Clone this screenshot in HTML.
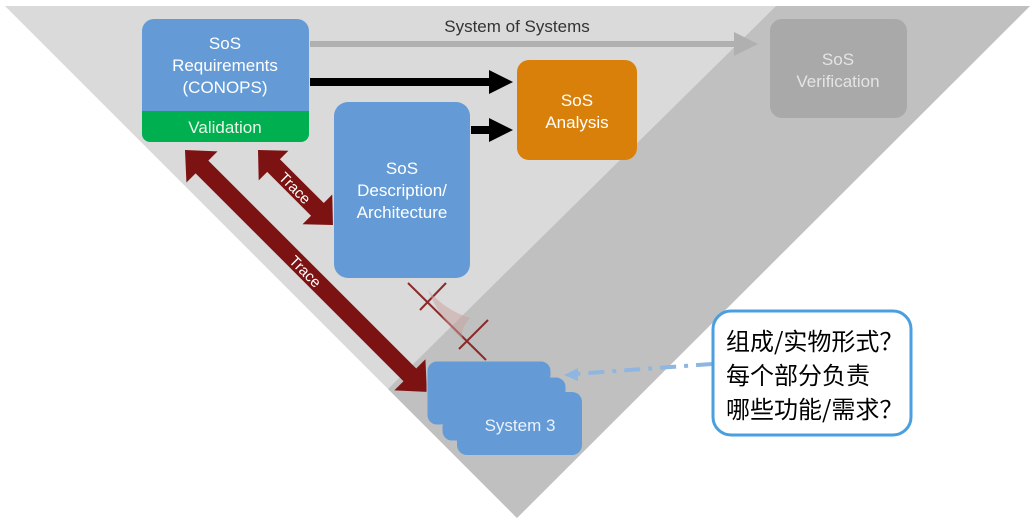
<!DOCTYPE html>
<html><head><meta charset="utf-8"><style>
html,body{margin:0;padding:0;background:#fff;width:1035px;height:525px;overflow:hidden}
svg{display:block}
text{font-family:"Liberation Sans",sans-serif}
</style></head><body>
<svg width="1035" height="525" viewBox="0 0 1035 525" xmlns="http://www.w3.org/2000/svg">
<defs>
<marker id="ag" markerWidth="4" markerHeight="4" refX="3" refY="2" orient="auto" markerUnits="strokeWidth"><path d="M0,0 L4,2 L0,4 z" fill="#b0b0b0"/></marker>
<marker id="ab" markerWidth="3" markerHeight="3" refX="2" refY="1.5" orient="auto" markerUnits="strokeWidth"><path d="M0,0 L3,1.5 L0,3 z" fill="#000"/></marker>
</defs>
<polygon points="5,6 1030,6 517,518" fill="#dadada"/>
<polygon points="776,6 1030,6 517,518 388,389" fill="#c0c0c0"/>
<text x="517" y="32" font-size="17" fill="#333" text-anchor="middle">System of Systems</text>
<line x1="310" y1="44" x2="752" y2="44" stroke="#b0b0b0" stroke-width="6" marker-end="url(#ag)"/>
<line x1="310" y1="82" x2="505" y2="82" stroke="#000" stroke-width="8" marker-end="url(#ab)"/>
<line x1="471" y1="130" x2="505" y2="130" stroke="#000" stroke-width="8" marker-end="url(#ab)"/>
<rect x="142" y="19" width="167" height="123" rx="12" fill="#649bd6"/>
<path d="M142,111 H309 V134 a8,8 0 0 1 -8,8 H150 a8,8 0 0 1 -8,-8 z" fill="#00b050"/>
<g font-size="17" fill="#fff" text-anchor="middle">
<text x="225" y="49">SoS</text>
<text x="225" y="71">Requirements</text>
<text x="225" y="93">(CONOPS)</text>
<text x="225" y="133" fill="#e8f5e8">Validation</text>
</g>
<rect x="334" y="102" width="136" height="176" rx="14" fill="#649bd6"/>
<g font-size="17" fill="#fff" text-anchor="middle">
<text x="402" y="174">SoS</text>
<text x="402" y="196">Description/</text>
<text x="402" y="218">Architecture</text>
</g>
<rect x="517" y="60" width="120" height="100" rx="12" fill="#d9800a"/>
<text x="577" y="106" font-size="17" fill="#fff" text-anchor="middle">SoS</text>
<text x="577" y="128" font-size="17" fill="#fff" text-anchor="middle">Analysis</text>
<rect x="770" y="19" width="137" height="99" rx="12" fill="#a9a9a9"/>
<text x="838" y="65" font-size="17" fill="#e4e4e4" text-anchor="middle">SoS</text>
<text x="838" y="87" font-size="17" fill="#e4e4e4" text-anchor="middle">Verification</text>
<g fill="#7d1212">
<g transform="translate(185,150) rotate(45)">
<polygon points="0,0 24,-22 24,-9 318,-9 318,-22 342,0 318,22 318,9 24,9 24,22"/>
<text x="171" y="6" font-size="15" fill="#fff" text-anchor="middle">Trace</text>
</g>
<g transform="translate(258,150) rotate(45)">
<polygon points="0,0 22,-21 22,-9 84,-9 84,-21 106,0 84,21 84,9 22,9 22,21"/>
<text x="53" y="6" font-size="15" fill="#fff" text-anchor="middle">Trace</text>
</g>
</g>
<g stroke="#8a2a2a" stroke-width="2" fill="none">
<line x1="408" y1="283" x2="486" y2="360"/>
<line x1="420" y1="310" x2="446" y2="283"/>
<line x1="459" y1="349" x2="488" y2="320"/>
</g>
<path d="M428,290 Q445,310 470,318 Q455,335 468,345 Q440,320 428,290z" fill="#c9a0a0" opacity="0.5"/>
<rect x="427" y="361" width="124" height="64" rx="10" fill="#649bd6" stroke="#c0c0c0"/>
<rect x="442" y="377" width="124" height="64" rx="10" fill="#649bd6" stroke="#c0c0c0"/>
<rect x="457" y="392" width="125" height="63" rx="10" fill="#649bd6"/>
<rect x="428" y="362" width="122" height="62" rx="9" fill="#649bd6"/>
<rect x="443" y="378" width="122" height="62" rx="9" fill="#649bd6"/>
<text x="520" y="431" font-size="17" fill="#eaf2fb" text-anchor="middle">System 3</text>
<line x1="712" y1="364" x2="575" y2="374" stroke="#8fb6e0" stroke-width="4" stroke-dasharray="16,8,4,8"/>
<path d="M564,375 L578,368 L578,381 z" fill="#8fb6e0"/>
<rect x="713" y="311" width="198" height="124" rx="18" fill="#fff" stroke="#4a9fe0" stroke-width="3"/>
<g font-size="24" fill="#000">
<text x="726" y="350" style="font-family:'Noto Sans CJK SC',sans-serif">组成/实物形式？</text>
<text x="726" y="384" style="font-family:'Noto Sans CJK SC',sans-serif">每个部分负责</text>
<text x="726" y="418" style="font-family:'Noto Sans CJK SC',sans-serif">哪些功能/需求？</text>
</g>
</svg>
</body></html>
